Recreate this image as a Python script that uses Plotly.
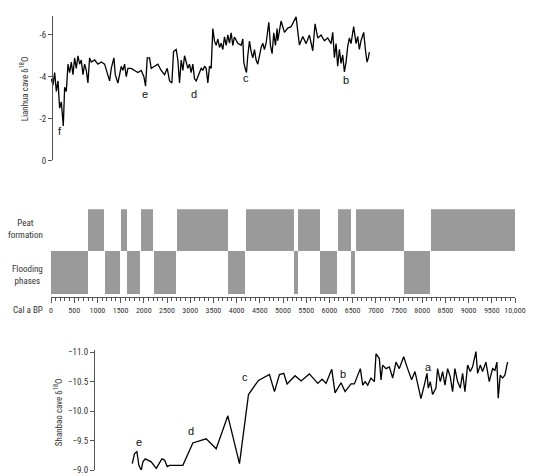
import plotly.graph_objects as go

# ---- Lianhua cave d18O (cal a BP, permil) ----
lianhua_age = [7, 43, 79, 115, 151, 186, 222, 244, 265, 294, 330, 366, 402, 438, 474, 509, 545, 581, 617, 653,
               689, 725, 761, 796, 832, 868, 940, 1012, 1084, 1155, 1191, 1227, 1263, 1299, 1356, 1385, 1442, 1514,
               1550, 1586, 1622, 1658, 1729, 1801, 1873, 1945, 2002, 2038, 2074, 2124, 2160, 2232, 2303, 2375, 2447,
               2505, 2555, 2605, 2641, 2698, 2734, 2770, 2806, 2842, 2878, 2950, 2985, 3021, 3057, 3093, 3129, 3165,
               3201, 3237, 3273, 3308, 3344, 3380, 3416, 3452, 3488, 3524, 3560, 3596, 3632, 3667, 3703, 3739, 3775,
               3811, 3847, 3883, 3918, 3954, 4026, 4098, 4134, 4155, 4184, 4213, 4241, 4277, 4313, 4349, 4385, 4421,
               4457, 4493, 4529, 4564, 4600, 4636, 4672, 4694, 4729, 4765, 4801, 4837, 4873,
               4887, 4959, 5031, 5103, 5174, 5282, 5354, 5426, 5498, 5569, 5641, 5691, 5749, 5821, 5892, 5964, 6036,
               6072, 6108, 6143, 6179, 6215, 6251, 6287, 6323, 6359, 6395, 6431, 6466, 6523, 6574, 6610, 6646, 6682,
               6739, 6775, 6811, 6840, 6861]
lianhua_d18o = [-3.9, -3.6, -4.2, -3.3, -3.8, -2.5, -2.8, -2.1, -1.65, -3.5, -3.3, -4.6, -4.2, -4.7, -4.1, -4.9,
                -4.4, -5.0, -4.6, -4.8, -4.1, -4.6, -4.3, -3.7, -4.9, -4.7, -4.8, -4.6, -4.7, -4.6, -4.3, -4.1,
                -3.8, -4.4, -4.9, -4.1, -3.7, -4.5, -4.3, -4.6, -4.0, -4.4, -4.4, -4.3, -4.2, -4.3, -4.0, -3.55,
                -4.9, -4.9, -4.4, -4.5, -4.6, -4.3, -4.1, -4.4, -3.8, -3.7, -5.2, -5.3, -4.8, -3.7, -4.8, -4.3,
                -5.0, -4.4, -4.6, -4.2, -4.6, -3.9, -3.8, -4.0, -4.2, -4.4, -4.3, -4.5, -4.4, -3.7, -4.5, -4.4,
                -6.3, -5.7, -5.5, -5.8, -5.4, -5.6, -5.3, -5.9, -5.5, -6.0, -5.6, -6.1, -5.5, -5.9, -5.6, -5.5,
                -5.8, -4.7, -4.4, -4.2, -5.0, -5.7, -5.2, -4.9, -5.3, -4.8, -4.6, -5.1, -5.4, -5.6, -5.3, -5.6,
                -6.3, -6.6, -5.5, -5.1, -6.1, -5.5, -6.3,
                -5.72, -6.66, -6.12, -6.32, -6.39, -6.86, -5.51, -5.92, -5.58, -5.99, -5.24, -6.53, -5.85, -5.99,
                -5.72, -5.85, -5.58, -6.12, -4.91, -5.58, -4.5, -5.31, -4.64, -5.04, -4.23, -4.7, -5.45, -5.85,
                -5.58, -6.39, -5.58, -5.92, -5.31, -5.72, -6.12, -5.31, -4.7, -4.91, -5.18]

# ---- Shanbao cave d18O ----
shanbao_age = [1751, 1801, 1851, 1894, 1945, 1981, 2031, 2074, 2160, 2268, 2390, 2447, 2505, 2555, 2842, 3057,
               3344, 3560, 3811, 4062, 4256, 4471, 4708, 4816, 4923, 5016, 5088, 5260, 5390, 5569, 5749, 5842,
               5928, 6050, 6122, 6251, 6337, 6466, 6538, 6667, 6718, 6768, 6826, 6897, 6969, 7005, 7076, 7112,
               7148, 7220, 7292, 7364, 7435, 7507, 7600, 7686, 7772, 7844, 7973, 8045, 8103, 8131, 8174, 8224,
               8296, 8332, 8390, 8440, 8490, 8548, 8605, 8655, 8705, 8763, 8820, 8871, 8921, 8979, 9036, 9086,
               9158, 9194, 9251, 9301, 9373, 9445, 9517, 9567, 9610, 9638, 9682, 9732, 9782, 9840]
shanbao_d18o = [-9.11, -9.28, -9.31, -9.08, -9.0, -9.14, -9.19, -9.17, -9.14, -9.03, -9.19, -9.17, -9.06, -9.08,
                -9.08, -9.46, -9.53, -9.36, -9.92, -9.11, -10.28, -10.52, -10.62, -10.33, -10.62, -10.64, -10.46,
                -10.6, -10.51, -10.63, -10.47, -10.54, -10.47, -10.71, -10.31, -10.48, -10.33, -10.46, -10.46,
                -10.72, -10.44, -10.5, -10.44, -10.56, -10.5, -10.97, -10.89, -10.53, -10.78, -10.72, -10.75,
                -10.56, -10.83, -10.72, -10.92, -10.72, -10.53, -10.67, -10.21, -10.44, -10.64, -10.39, -10.5,
                -10.28, -10.39, -10.72, -10.5, -10.67, -10.44, -10.72, -10.58, -10.33, -10.72, -10.5, -10.39,
                -10.64, -10.33, -10.78, -10.67, -10.75, -11.01, -10.64, -10.78, -10.67, -10.83, -10.5, -10.72,
                -10.69, -10.83, -10.22, -10.61, -10.56, -10.61, -10.83]

# ---- peat formation / flooding phases (start, end in cal a BP) ----
peat = [(800, 1150), (1510, 1640), (1930, 2200), (2710, 3810), (4200, 5230), (5330, 5800),
        (6190, 6460), (6570, 7600), (8180, 10000)]
flood = [(0, 800), (1170, 1490), (1640, 1920), (2210, 2700), (3820, 4190), (5230, 5330),
         (5800, 6170), (6470, 6560), (7600, 8170)]

lianhua_events = [("f", 190, -1.42), ("e", 2020, -3.17), ("d", 3080, -3.17), ("c", 4200, -3.94), ("b", 6350, -3.86)]
shanbao_events = [("e", 1890, -9.47), ("d", 3010, -9.67), ("c", 4180, -10.58), ("b", 6290, -10.63), ("a", 8140, -10.75)]

tick_vals = list(range(0, 10001, 500))
tick_text = [f"{v:,}" if v == 10000 else str(v) for v in tick_vals]

FONT = "Liberation Sans Narrow, Roboto Condensed, Liberation Sans, Arial"
GREY = "#9a9a9a"

fig = go.Figure()

fig.add_trace(go.Scatter(x=lianhua_age, y=lianhua_d18o, mode="lines",
                         line=dict(color="black", width=1.3), yaxis="y"))

for rows, yc in ((peat, 1.5), (flood, 0.5)):
    fig.add_trace(go.Bar(orientation="h", base=[a for a, b in rows], x=[b - a for a, b in rows],
                         y=[yc] * len(rows), width=1, marker=dict(color=GREY, line=dict(width=0)),
                         yaxis="y2"))

fig.add_trace(go.Scatter(x=shanbao_age, y=shanbao_d18o, mode="lines",
                         line=dict(color="black", width=1.3), yaxis="y3"))

LETTER = dict(size=11, color="#111", family="Liberation Sans, Arial")
ann = []
for t, x, y in lianhua_events:
    ann.append(dict(x=x, y=y, xref="x", yref="y", text=t, showarrow=False, font=LETTER))
for t, x, y in shanbao_events:
    ann.append(dict(x=x, y=y, xref="x", yref="y3", text=t, showarrow=False, font=LETTER))
SIDE = dict(size=9, color="#333")
ann += [
    dict(x=-0.012, y=0.535, xref="paper", yref="paper", text="Peat<br>formation", showarrow=False,
         xanchor="right", align="center", font=SIDE),
    dict(x=-0.012, y=0.435, xref="paper", yref="paper", text="Flooding<br>phases", showarrow=False,
         xanchor="right", align="center", font=SIDE),
    dict(x=-0.012, y=0.357, xref="paper", yref="paper", text="Cal a BP", showarrow=False,
         xanchor="right", font=SIDE),
    dict(x=-0.058, y=0.84, xref="paper", yref="paper", text="Lianhua cave δ<sup>18</sup>O", showarrow=False,
         textangle=-90, xanchor="center", yanchor="middle", font=SIDE),
    dict(x=0.015, y=0.135, xref="paper", yref="paper", text="Shanbao cave δ<sup>18</sup>O", showarrow=False,
         textangle=-90, xanchor="center", yanchor="middle", font=SIDE),
]

fig.update_layout(
    width=550, height=476, margin=dict(l=43, r=43, t=5, b=5),
    paper_bgcolor="white", plot_bgcolor="white", showlegend=False, bargap=0, barmode="overlay",
    font=dict(family=FONT, size=9, color="#333"),
    annotations=ann,
    xaxis=dict(range=[0, 10000], tickvals=tick_vals, ticktext=tick_text, showgrid=False, zeroline=False,
               anchor="free", position=0.386, showline=True, linecolor="#555", linewidth=1,
               ticks="outside", ticklen=5, tickcolor="#555", tickangle=0,
               minor=dict(dtick=100, ticks="outside", ticklen=3, tickcolor="#555"),
               tickfont=dict(size=8)),
    yaxis=dict(domain=[0.6845, 1.0], range=[0, -6.9], tickvals=[0, -2, -4, -6], ticktext=["0", "-2", "-4", "-6"],
               showgrid=False, zeroline=False, showline=True, linecolor="#555", ticks="outside", ticklen=4,
               tickcolor="#555", anchor="free", position=0.002),
    yaxis2=dict(domain=[0.393, 0.578], range=[0, 2], visible=False, anchor="free", position=0),
    yaxis3=dict(domain=[0.0086, 0.27], range=[-9.0, -11.03], tickvals=[-11, -10.5, -10, -9.5, -9],
                tickformat=".1f", showgrid=False, zeroline=False, showline=True, linecolor="#555",
                ticks="outside", ticklen=4, tickcolor="#555", anchor="free", position=0.0926),
)

fig.write_html("out.html")
